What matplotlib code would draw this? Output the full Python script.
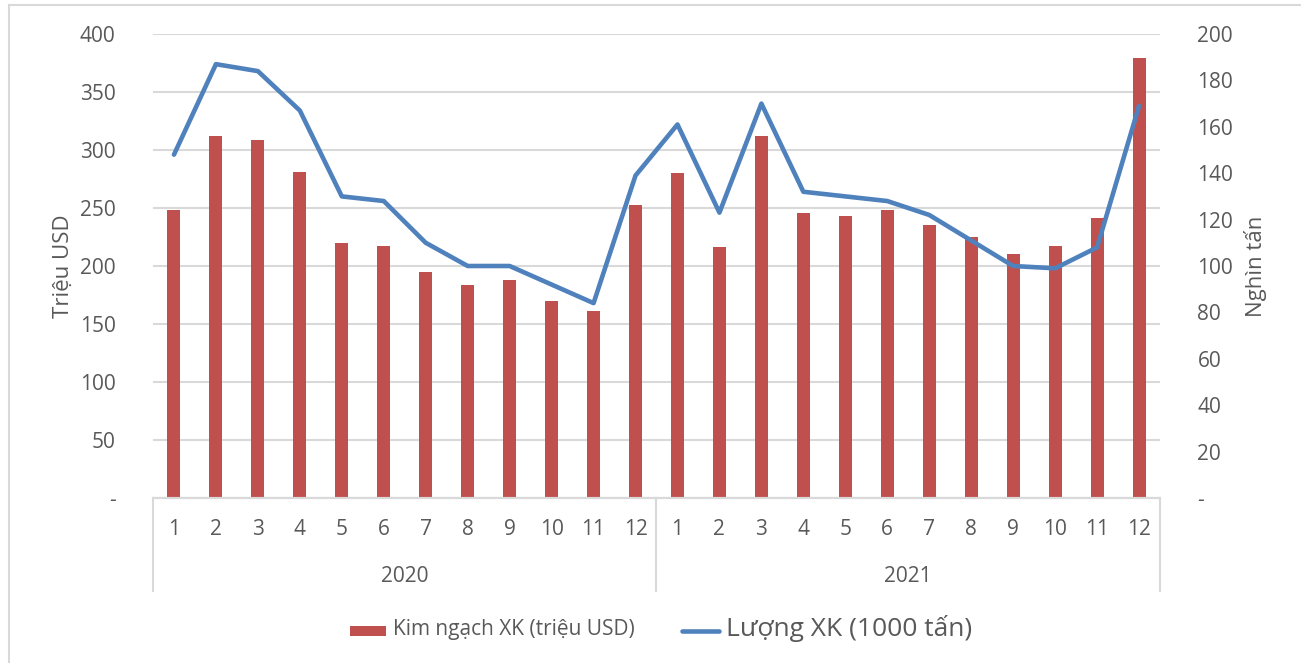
import numpy as np
import matplotlib.pyplot as plt
from matplotlib.lines import Line2D

plt.rcParams['font.family'] = ['Open Sans', 'DejaVu Sans']

months = [str(m) for m in range(1, 13)] * 2
years = ['2020', '2021']
kim_ngach = [248, 312, 309, 281, 220, 217, 195, 184, 188, 170, 161, 253,
             280, 216, 312, 246, 243, 248, 235, 225, 210, 217, 241, 379]
luong = [148, 187, 184, 167, 130, 128, 110, 100, 100, 92, 84, 139,
         161, 123, 170, 132, 130, 128, 122, 111, 100, 99, 108, 169]

bar_c = '#c0504d'
line_c = '#4f81bd'
txt_c = '#595959'
grid_c = '#d9d9d9'

W, H = 1301, 663
fig = plt.figure(figsize=(W / 100, H / 100), dpi=100)
ax = fig.add_axes([153 / W, 1 - 498 / H, (1160 - 153) / W, (498 - 34) / H])
ax2 = ax.twinx()

x = np.arange(len(months))
ax.bar(x, kim_ngach, width=0.31, color=bar_c, zorder=2, label='Kim ngạch XK (triệu USD)')
ax2.plot(x, luong, color=line_c, lw=3.3, solid_joinstyle='round', solid_capstyle='round',
         label='Lượng XK (1000 tấn)')

ax.set_xlim(-0.5, len(months) - 0.5)
ax.set_ylim(0, 400)
ax2.set_ylim(0, 200)

lt = np.arange(0, 401, 50)
ax.set_yticks(lt)
ax.set_yticklabels(['-'] + [str(v) for v in lt[1:]])
rt = np.arange(0, 201, 20)
ax2.set_yticks(rt)
ax2.set_yticklabels(['-'] + [str(v) for v in rt[1:]])

ax.set_xticks(x)
ax.set_xticklabels(months)
ax.tick_params(axis='x', length=0, pad=15, labelsize=15, labelcolor=txt_c)
ax.tick_params(axis='y', length=0, pad=27, labelsize=15, labelcolor=txt_c)
ax2.tick_params(axis='y', length=0, pad=27, labelsize=15, labelcolor=txt_c)

ax.yaxis.grid(True, color=grid_c, lw=1.5, zorder=0)
ax.set_axisbelow(True)
for a in (ax, ax2):
    for s in ('top', 'left', 'right'):
        a.spines[s].set_visible(False)
    a.spines['bottom'].set_color(grid_c)
    a.spines['bottom'].set_linewidth(1.5)

ax.set_ylabel('Triệu USD', fontsize=16, color=txt_c, labelpad=4)
ax2.set_ylabel('Nghìn tấn', fontsize=16, color=txt_c, labelpad=8)

# year groups under the month labels
tr = ax.get_xaxis_transform()
for xs in (-0.5, 11.5, 23.5):
    ax.plot([xs, xs], [0, -0.2], color=grid_c, lw=1.5, transform=tr, clip_on=False)
for i, y in enumerate(years):
    ax.text(i * 12 + 5.5, -0.17, y, transform=tr, ha='center', va='center',
            fontsize=15, color=txt_c)

leg = fig.legend(handles=[ax.patches[0], ax2.lines[0]],
                 labels=['Kim ngạch XK (triệu USD)', 'Lượng XK (1000 tấn)'],
                 loc='center', bbox_to_anchor=(661 / W, 1 - 628 / H), ncol=2,
                 frameon=False, handlelength=2.6, columnspacing=3.4, handletextpad=0.55)
leg.get_texts()[0].set_fontsize(15)
leg.get_texts()[1].set_fontsize(19)
for t in leg.get_texts():
    t.set_color(txt_c)

# outer chart border
fig.add_artist(Line2D([9 / W, 9 / W], [0, 1 - 5 / H], color=grid_c, lw=1.5))
fig.add_artist(Line2D([9 / W, 1], [1 - 5 / H, 1 - 5 / H], color=grid_c, lw=1.5))

fig.savefig('out.png', dpi=100)
